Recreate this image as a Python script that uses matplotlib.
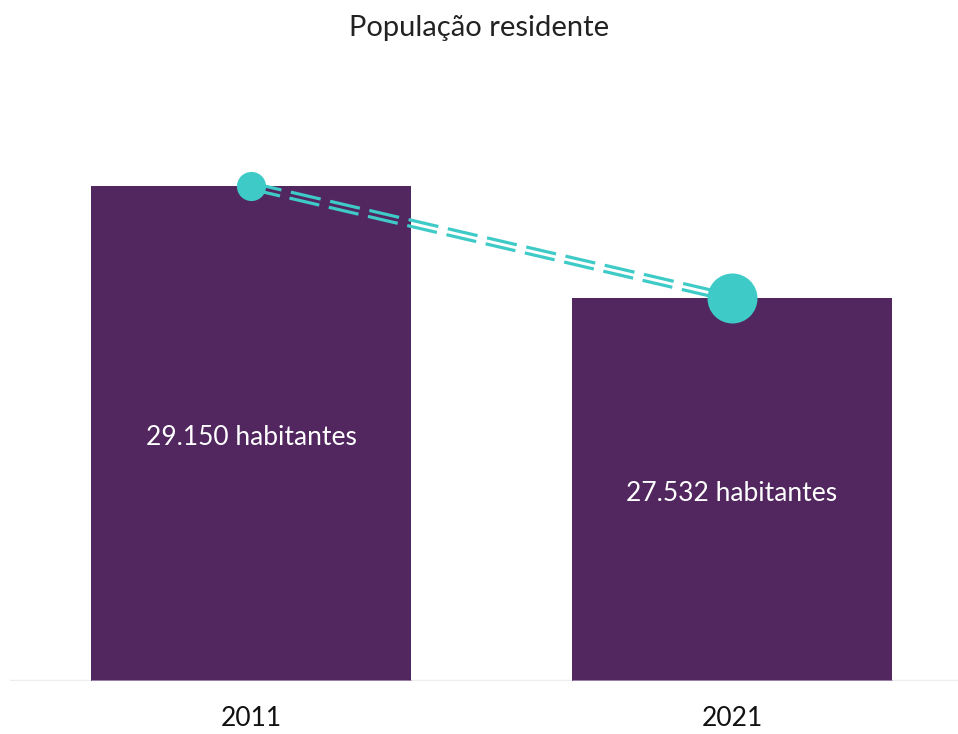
import numpy as np
import matplotlib.pyplot as plt
from matplotlib.transforms import offset_copy

plt.rcParams['font.family'] = ['Lato', 'DejaVu Sans']
plt.rcParams['lines.scale_dashes'] = False

years = ['2011', '2021']
population = [29150, 27532]
labels = ['29.150 habitantes', '27.532 habitantes']
marker_sizes = [21, 36]

purple = '#52265f'
teal = '#3ecbc8'
base = 22000

fig = plt.figure(figsize=(9.58, 7.34), dpi=100)
ax = fig.add_axes([10 / 958, 53 / 734, 948 / 958, 621 / 734])
ax.set_xlim(-0.501, 1.47)
ax.set_ylim(base, 30970)

x = list(range(len(years)))
ax.bar(x, [v - base for v in population], bottom=base, width=0.665, color=purple, zorder=2)

# baseline + lighter edge under the bars
ax.axhline(base, color='#eeeeee', lw=2.5, zorder=1)
for xi in x:
    ax.hlines(base, xi - 0.3325, xi + 0.3325, color='#a48ab5', lw=2, zorder=3)

# double dashed connector: two thin dashed lines offset either side
p = ax.transData.transform(np.column_stack([x, population]))
d = p[1] - p[0]
n = np.array([-d[1], d[0]]) / np.hypot(*d)
dash = (0, (22, 7))
for s in (-2.2, 2.2):
    tr = offset_copy(ax.transData, fig=fig, x=n[0] * s, y=n[1] * s, units='points')
    ax.plot(x, population, color=teal, lw=2.3, linestyle=dash, dash_capstyle='butt',
            transform=tr, zorder=4)

for xi, v, ms in zip(x, population, marker_sizes):
    ax.plot(xi, v, 'o', color=teal, markersize=ms, markeredgewidth=0, zorder=6)

for xi, v, lab in zip(x, population, labels):
    ax.text(xi, (base + v) / 2 - 60, lab, color='white', fontsize=19, ha='center', va='center', zorder=7)

ax.set_xticks(x)
ax.set_xticklabels(years, fontsize=19, color='#111111')
ax.tick_params(axis='x', length=0, pad=18)
ax.set_yticks([])
for s in ax.spines.values():
    s.set_visible(False)

fig.text(0.5, 1 - 28 / 734, 'População residente', ha='center', va='center', fontsize=21,
         color='#222222')

fig.savefig('out.png', dpi=100)
